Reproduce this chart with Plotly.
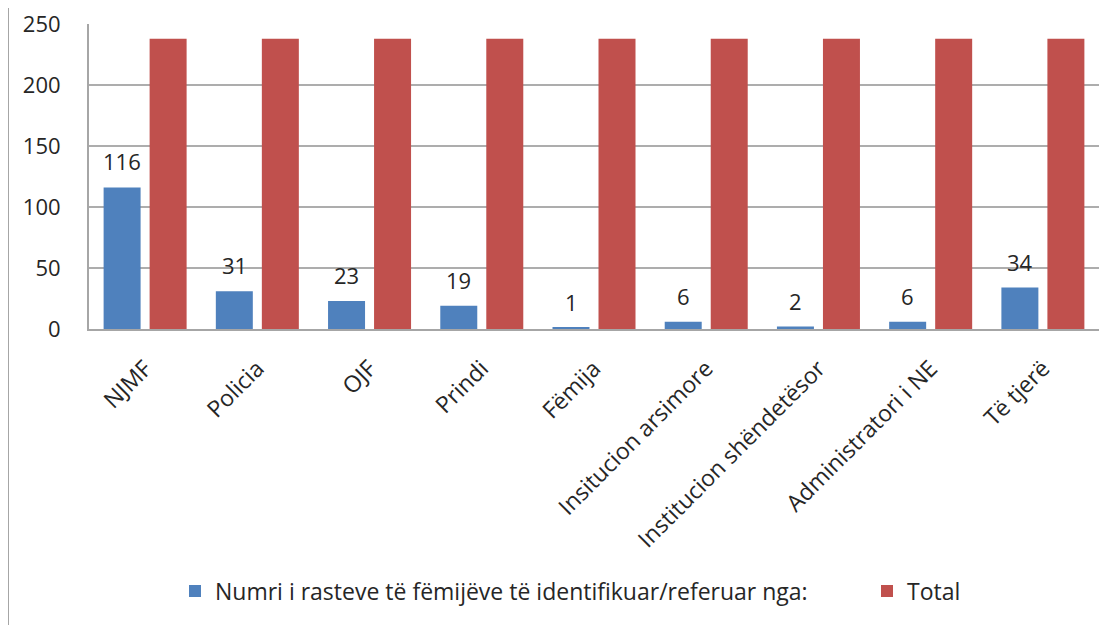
import plotly.graph_objects as go

categories = ["NJMF", "Policia", "OJF", "Prindi", "Fëmija", "Insitucion arsimore",
              "Institucion shëndetësor", "Administratori i NE", "Të tjerë"]
numri = [116, 31, 23, 19, 1, 6, 2, 6, 34]
total = [238, 238, 238, 238, 238, 238, 238, 238, 238]
y_ticks = [0, 50, 100, 150, 200, 250]

FONT = "Open Sans, Lato, sans-serif"
FS = 22
FS_X = 23
FS_LEG = 23
TXT = "#262626"
OFF = 8  # page body margin
W, H = 1114 - OFF, 625 - OFF
L, T = 89 - OFF, 24 - OFF
R = W - (1099 - OFF)
B = H - (329 - OFF)
pw = W - L - R
ph = H - T - B


def px_x(sx):
    return (sx - OFF - L) / pw


def px_y(sy):
    return (H - B - (sy - OFF)) / ph


fig = go.Figure()
fig.add_trace(go.Bar(x=categories, y=numri,
                     name="Numri i rasteve të fëmijëve të identifikuar/referuar nga:",
                     marker=dict(color="#4F81BD", line=dict(width=0)), legend="legend"))
fig.add_trace(go.Bar(x=categories, y=total, name="Total",
                     marker=dict(color="#C0504D", line=dict(width=0)), legend="legend2"))

for i, v in enumerate(numri):
    fig.add_annotation(x=i, y=v, xref="x", yref="y", text=str(v), showarrow=False,
                       xshift=-23, yshift=26, yanchor="middle",
                       font=dict(family=FONT, size=FS, color=TXT))

fig.add_shape(type="line", xref="paper", yref="paper",
              x0=px_x(8), x1=px_x(8), y0=px_y(625), y1=px_y(0),
              line=dict(color="#A6A6A6", width=2))

leg_common = dict(orientation="h", xanchor="left", yanchor="middle",
                  font=dict(family=FONT, size=FS_LEG, color=TXT), bgcolor="rgba(0,0,0,0)",
                  borderwidth=0)

fig.update_layout(
    width=W, height=H,
    margin=dict(l=L, r=R, t=T, b=B, autoexpand=False),
    paper_bgcolor="white", plot_bgcolor="white",
    barmode="group", bargap=0.18, bargroupgap=0.196,
    font=dict(family=FONT, size=FS, color=TXT),
    showlegend=True,
    legend=dict(x=px_x(175), y=px_y(591), **leg_common),
    legend2=dict(x=px_x(867), y=px_y(591), **leg_common),
    xaxis=dict(type="category", tickangle=-45, showgrid=False,
               showline=True, linecolor="#A6A6A6", linewidth=2,
               ticks="", ticklabelstandoff=15,
               tickfont=dict(family=FONT, size=FS_X, color=TXT)),
    yaxis=dict(range=[0, 250], tickvals=y_ticks, showgrid=True, gridcolor="#ADADAD", gridwidth=2,
               showline=True, linecolor="#A6A6A6", linewidth=2, zeroline=False,
               ticks="", ticklabelstandoff=22, ticklabeloverflow="allow",
               tickfont=dict(family=FONT, size=FS, color=TXT)),
)

fig.write_html("out.html")
